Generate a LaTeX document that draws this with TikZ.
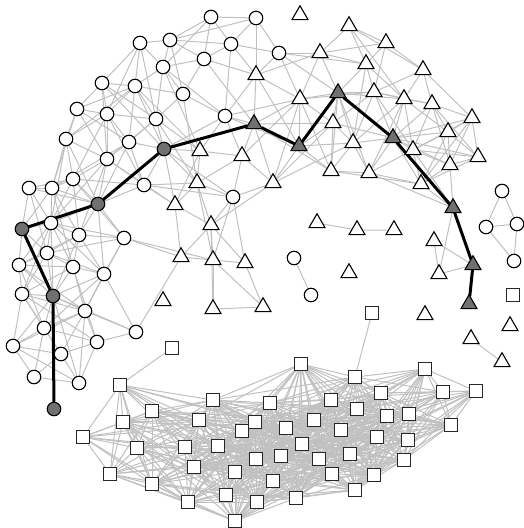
\documentclass[tikz,border=0pt]{standalone}
\usetikzlibrary{shapes.geometric,backgrounds}
\definecolor{edgegray}{RGB}{192,192,192}
\definecolor{pathgray}{RGB}{112,112,112}
\tikzset{
  x=1pt,y=-1pt,
  base/.style={draw=black,line width=1.1pt,fill=white,inner sep=0pt,outer sep=0pt},
  circ/.style={base,circle,minimum size=13.5pt},
  gcirc/.style={circ,fill=pathgray},
  tri/.style={base,regular polygon,regular polygon sides=3,minimum size=18.5pt},
  gtri/.style={tri,fill=pathgray},
  sq/.style={base,rectangle,draw=black!85,line width=1.2pt,minimum size=13pt},
  edge/.style={draw=edgegray,line width=1pt},
  thick path/.style={draw=black,line width=3pt,line join=round}
}
% #1,#2 node names, #3 index sum key, #4 near threshold, #5 far threshold
\newcommand{\linkif}[5]{%
  \pgfpointdiff{\pgfpointanchor{#1}{center}}{\pgfpointanchor{#2}{center}}%
  \pgfgetlastxy{\dxx}{\dyy}%
  \pgfmathveclen{\dxx}{\dyy}%
  \let\dd\pgfmathresult
  \ifdim\dd pt<#4pt\relax
    \draw[edge] (#1) -- (#2);%
  \else\ifdim\dd pt<#5pt\relax
    \pgfmathtruncatemacro\keep{mod(#3,5)}%
    \ifnum\keep<2 \draw[edge] (#1) -- (#2);\fi
  \fi\fi}
\begin{document}
\begin{tikzpicture}
\useasboundingbox (0,0) rectangle (524,528);
% main connected arc (circles + triangles); first nine are on the path
\foreach [count=\k] \x/\y/\s in {
 53/296/gcirc, 22/229/gcirc, 98/204/gcirc, 164/149/gcirc, 254/124/gtri,
 299/146/gtri, 338/93/gtri, 393/138/gtri, 453/208/gtri,
 211/17/circ, 256/18/circ, 140/43/circ, 170/40/circ, 231/44/circ, 204/59/circ,
 163/67/circ, 102/83/circ, 135/86/circ, 183/94/circ, 77/109/circ, 107/114/circ,
 156/119/circ, 225/116/circ, 66/139/circ, 129/142/circ, 107/159/circ, 279/53/circ,
 73/179/circ, 144/185/circ, 29/188/circ, 52/188/circ, 233/197/circ, 51/223/circ,
 79/235/circ, 124/238/circ, 47/253/circ, 19/265/circ, 73/267/circ, 104/274/circ,
 22/294/circ, 85/311/circ, 44/328/circ, 136/332/circ, 13/346/circ, 97/342/circ,
 61/354/circ, 34/377/circ, 79/383/circ,
 349/26/tri, 386/43/tri, 320/53/tri, 366/64/tri, 423/70/tri, 256/75/tri,
 300/99/tri, 374/92/tri, 404/99/tri, 432/104/tri, 472/118/tri, 333/123/tri,
 448/132/tri, 353/143/tri, 413/150/tri, 478/157/tri, 450/165/tri, 331/171/tri,
 369/173/tri, 421/184/tri, 200/151/tri, 242/156/tri, 273/183/tri, 197/183/tri,
 175/205/tri, 211/225/tri, 181/257/tri, 213/260/tri, 245/263/tri, 213/309/tri,
 263/307/tri}
 {\node[\s] (m\k) at (\x,\y) {}; \xdef\nmain{\k}}
% square cluster
\foreach [count=\k] \x/\y in {
 120/385, 152/411, 123/422, 83/437, 213/400, 199/420, 137/448, 185/447, 218/446,
 242/431, 255/422, 194/467, 110/474, 152/484, 235/472, 256/459, 226/495, 188/502,
 235/521, 257/502, 301/364, 355/377, 425/369, 381/393, 443/392, 476/391, 270/403,
 331/400, 357/409, 387/416, 409/414, 451/425, 314/420, 286/428, 341/430, 377/437,
 408/440, 302/444, 281/456, 319/459, 350/454, 404/460, 332/474, 374/475, 273/481,
 296/498, 355/490}
 {\node[sq] (s\k) at (\x,\y) {}; \xdef\nsq{\k}}
% small components and isolated nodes
\node[gcirc] (p0) at (54,409) {};
\node[tri] (ta) at (317,223) {};
\node[tri] (tb) at (357,230) {};
\node[tri] (tc) at (394,230) {};
\node[circ] (ca) at (294,258) {};
\node[circ] (cb) at (311,295) {};
\node[circ] (q1) at (502,191) {};
\node[circ] (q2) at (486,227) {};
\node[circ] (q3) at (517,224) {};
\node[circ] (q4) at (514,261) {};
\node[tri] (g1) at (434,241) {};
\node[tri] (g2) at (439,274) {};
\node[gtri] (g3) at (473,265) {};
\node[gtri] (g4) at (469,304) {};
\node[tri] (i1) at (300,15) {};
\node[tri] (i2) at (163,301) {};
\node[tri] (i3) at (349,273) {};
\node[tri] (i4) at (425,315) {};
\node[tri] (i5) at (510,326) {};
\node[tri] (r1) at (471,339) {};
\node[tri] (r2) at (502,362) {};
\node[sq] (i6) at (513,295) {};
\node[sq] (u1) at (372,313) {};
\node[sq] (u2) at (172,348) {};
\begin{pgfonlayer}{background}
 \foreach \i in {1,...,\nmain}{
  \foreach \j in {\i,...,\nmain}{
   \ifnum\j>\i
    \linkif{m\i}{m\j}{\i*7+\j*11}{56}{92}
   \fi}}
 \foreach \i in {1,...,\nsq}{
  \foreach \j in {\i,...,\nsq}{
   \ifnum\j>\i
    \linkif{s\i}{s\j}{\i*3+\j*13}{105}{175}
   \fi}}
 \draw[edge] (ta) -- (tb) -- (tc);
 \draw[edge] (ca) -- (cb);
 \draw[edge] (q1) -- (q2) -- (q3) -- (q1) (q2) -- (q4) -- (q3);
 \draw[edge] (m9) -- (g2) -- (g1) -- (g3) -- (g2);
 \draw[edge] (r1) -- (r2);
 \draw[edge] (u1) -- (s22);
 \draw[edge] (u2) -- (s1);
 \draw[thick path] (p0) -- (m1) -- (m2) -- (m3) -- (m4) -- (m5) -- (m6) -- (m7)
   -- (m8) -- (m9) -- (g3) -- (g4);
\end{pgfonlayer}
\end{tikzpicture}
\end{document}
